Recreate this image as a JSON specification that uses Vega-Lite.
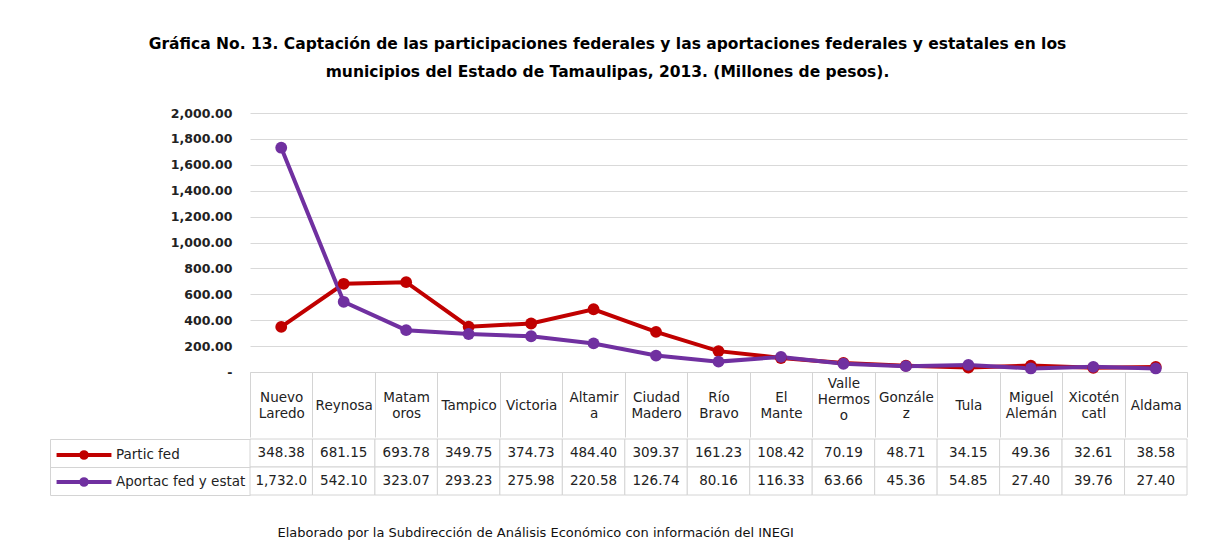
{
  "$schema": "https://vega.github.io/schema/vega-lite/v6.json",
  "padding": {"left": 49, "top": 36, "right": 20, "bottom": 5},
  "background": "white",
  "config": {"font": "DejaVu Sans", "view": {"stroke": null}},
  "title": {
    "text": ["Gráfica No. 13. Captación de las participaciones federales y las aportaciones federales y estatales en los", "municipios del Estado de Tamaulipas, 2013. (Millones de pesos)."],
    "fontSize": 15.5, "fontWeight": "bold", "lineHeight": 28, "anchor": "middle", "offset": 27, "dx": -11, "color": "#000"
  },
  "datasets": {
    "d": [
      {"municipio": "Nuevo Laredo", "serie": "Partic fed", "valor": 348.38},
      {"municipio": "Reynosa", "serie": "Partic fed", "valor": 681.15},
      {"municipio": "Matamoros", "serie": "Partic fed", "valor": 693.78},
      {"municipio": "Tampico", "serie": "Partic fed", "valor": 349.75},
      {"municipio": "Victoria", "serie": "Partic fed", "valor": 374.73},
      {"municipio": "Altamira", "serie": "Partic fed", "valor": 484.40},
      {"municipio": "Ciudad Madero", "serie": "Partic fed", "valor": 309.37},
      {"municipio": "Río Bravo", "serie": "Partic fed", "valor": 161.23},
      {"municipio": "El Mante", "serie": "Partic fed", "valor": 108.42},
      {"municipio": "Valle Hermoso", "serie": "Partic fed", "valor": 70.19},
      {"municipio": "González", "serie": "Partic fed", "valor": 48.71},
      {"municipio": "Tula", "serie": "Partic fed", "valor": 34.15},
      {"municipio": "Miguel Alemán", "serie": "Partic fed", "valor": 49.36},
      {"municipio": "Xicoténcatl", "serie": "Partic fed", "valor": 32.61},
      {"municipio": "Aldama", "serie": "Partic fed", "valor": 38.58},
      {"municipio": "Nuevo Laredo", "serie": "Aportac fed y estat", "valor": 1732.0},
      {"municipio": "Reynosa", "serie": "Aportac fed y estat", "valor": 542.10},
      {"municipio": "Matamoros", "serie": "Aportac fed y estat", "valor": 323.07},
      {"municipio": "Tampico", "serie": "Aportac fed y estat", "valor": 293.23},
      {"municipio": "Victoria", "serie": "Aportac fed y estat", "valor": 275.98},
      {"municipio": "Altamira", "serie": "Aportac fed y estat", "valor": 220.58},
      {"municipio": "Ciudad Madero", "serie": "Aportac fed y estat", "valor": 126.74},
      {"municipio": "Río Bravo", "serie": "Aportac fed y estat", "valor": 80.16},
      {"municipio": "El Mante", "serie": "Aportac fed y estat", "valor": 116.33},
      {"municipio": "Valle Hermoso", "serie": "Aportac fed y estat", "valor": 63.66},
      {"municipio": "González", "serie": "Aportac fed y estat", "valor": 45.36},
      {"municipio": "Tula", "serie": "Aportac fed y estat", "valor": 54.85},
      {"municipio": "Miguel Alemán", "serie": "Aportac fed y estat", "valor": 27.40},
      {"municipio": "Xicoténcatl", "serie": "Aportac fed y estat", "valor": 39.76},
      {"municipio": "Aldama", "serie": "Aportac fed y estat", "valor": 27.40}
    ]
  },
  "spacing": 0,
  "resolve": {"scale": {"color": "independent"}},
  "vconcat": [
    {
      "width": 937,
      "height": 259,
      "data": {"name": "d"},
      "encoding": {
        "x": {
          "field": "municipio", "type": "nominal", "bandPosition": 0.5,
          "sort": ["Nuevo Laredo", "Reynosa", "Matamoros", "Tampico", "Victoria", "Altamira", "Ciudad Madero", "Río Bravo", "El Mante", "Valle Hermoso", "González", "Tula", "Miguel Alemán", "Xicoténcatl", "Aldama"],
          "scale": {"type": "band", "paddingInner": 0, "paddingOuter": 0},
          "axis": {
            "orient": "bottom", "title": null, "tickBand": "extent", "tickSize": 65, "tickColor": "#d4d4d4", "domainColor": "#d4d4d4",
            "labelAngle": 0, "labelBaseline": "middle", "labelAlign": "center",
            "labelPadding": {
              "condition": [
                {"test": "datum.value == 'Valle Hermoso'", "value": -54},
                {"test": "indexof(['Nuevo Laredo','Matamoros','Altamira','Ciudad Madero','Río Bravo','El Mante','González','Miguel Alemán','Xicoténcatl'], datum.value) >= 0", "value": -40}
              ],
              "value": -32
            },
            "labelOverlap": false, "labelFontSize": 13.5, "labelColor": "#222", "labelLineHeight": 16,
            "labelExpr": "datum.value=='Nuevo Laredo'?['Nuevo','Laredo']:datum.value=='Matamoros'?['Matam','oros']:datum.value=='Altamira'?['Altamir','a']:datum.value=='Ciudad Madero'?['Ciudad','Madero']:datum.value=='Río Bravo'?['Río','Bravo']:datum.value=='El Mante'?['El','Mante']:datum.value=='Valle Hermoso'?['Valle','Hermos','o']:datum.value=='González'?['Gonzále','z']:datum.value=='Miguel Alemán'?['Miguel','Alemán']:datum.value=='Xicoténcatl'?['Xicotén','catl']:datum.value"
          }
        },
        "y": {
          "field": "valor", "type": "quantitative",
          "scale": {"domain": [0, 2000]},
          "axis": {
            "title": null, "values": [0, 200, 400, 600, 800, 1000, 1200, 1400, 1600, 1800, 2000],
            "labelExpr": "datum.value==0?'-':format(datum.value, ',.2f')",
            "domain": false, "ticks": false, "gridColor": "#d9d9d9", "labelFontSize": 12.5, "labelFontWeight": "bold", "labelColor": "#222", "labelPadding": 18
          }
        },
        "color": {
          "field": "serie", "type": "nominal", "legend": null,
          "scale": {"domain": ["Partic fed", "Aportac fed y estat"], "range": ["#c00000", "#7030a0"]}
        }
      },
      "layer": [
        {"mark": {"type": "line", "strokeWidth": 4}},
        {"mark": {"type": "point", "filled": true, "size": 140, "opacity": 1}}
      ]
    },
    {
      "width": 937,
      "height": 56,
      "data": {"name": "d"},
      "transform": [
        {"calculate": "datum.valor >= 1000 ? format(datum.valor, ',.1f') : format(datum.valor, ',.2f')", "as": "texto"}
      ],
      "encoding": {
        "x": {
          "field": "municipio", "type": "nominal",
          "sort": ["Nuevo Laredo", "Reynosa", "Matamoros", "Tampico", "Victoria", "Altamira", "Ciudad Madero", "Río Bravo", "El Mante", "Valle Hermoso", "González", "Tula", "Miguel Alemán", "Xicoténcatl", "Aldama"],
          "scale": {"type": "band", "paddingInner": 0, "paddingOuter": 0},
          "axis": {
            "orient": "bottom", "labels": false, "ticks": false, "domain": false,
            "title": "Elaborado por la Subdirección de Análisis Económico con información del INEGI",
            "titleAnchor": "start", "titleAlign": "left", "titleX": 27, "titlePadding": 31, "titleFontSize": 13, "titleFontWeight": "normal", "titleColor": "#111"
          }
        },
        "y": {
          "field": "serie", "type": "nominal",
          "sort": ["Partic fed", "Aportac fed y estat"],
          "scale": {"type": "band", "paddingInner": 0, "paddingOuter": 0},
          "axis": {
            "title": null, "labels": false, "offset": 200, "tickSize": -200, "tickBand": "extent",
            "tickColor": "#d4d4d4", "domainColor": "#d4d4d4"
          }
        }
      },
      "layer": [
        {"mark": {"type": "rect", "fill": "white", "stroke": "#d4d4d4", "strokeWidth": 1}},
        {
          "mark": {"type": "text", "fontSize": 13.5, "color": "#222", "baseline": "middle"},
          "encoding": {"text": {"field": "texto"}}
        },
        {
          "mark": {"type": "point", "filled": false, "opacity": 0},
          "encoding": {
            "color": {
              "field": "serie", "type": "nominal",
              "scale": {"domain": ["Partic fed", "Aportac fed y estat"], "range": ["#c00000", "#7030a0"]},
              "legend": {
                "orient": "left", "title": null, "offset": -197, "padding": 0,
                "symbolType": "M-1.96,0H1.96M0.2,0A0.2,0.2,0,1,1,-0.2,0A0.2,0.2,0,1,1,0.2,0",
                "symbolSize": 784, "symbolStrokeWidth": 4, "symbolOpacity": 1,
                "labelFontSize": 13.5, "labelColor": "#222", "labelOffset": 16, "rowPadding": 0
              }
            }
          }
        }
      ]
    }
  ]
}
